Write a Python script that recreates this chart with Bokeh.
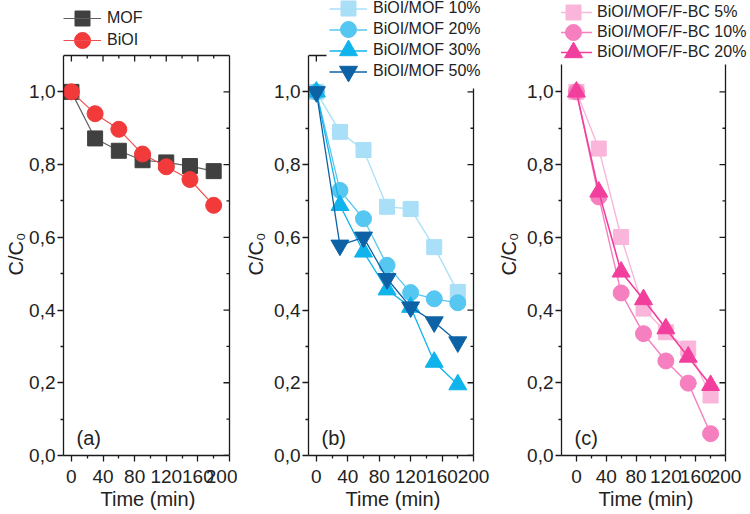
from bokeh.plotting import figure
from bokeh.models import (FixedTicker, CustomJSTickFormatter, Range1d, Title,
                          Legend, LegendItem, Label)
from bokeh.layouts import row
from bokeh.embed import file_html
from bokeh.resources import INLINE

# ---------------- data ----------------
time = [0, 30, 60, 90, 120, 150, 180]

mof = [1.0, 0.872, 0.838, 0.812, 0.806, 0.796, 0.782]
bioi = [1.0, 0.940, 0.897, 0.829, 0.794, 0.759, 0.688]

bm10 = [1.0, 0.890, 0.840, 0.684, 0.678, 0.573, 0.450]
bm20 = [1.0, 0.729, 0.651, 0.523, 0.448, 0.431, 0.420]
bm30 = [1.0, 0.688, 0.560, 0.456, 0.408, 0.257, 0.195]
bm50 = [1.0, 0.578, 0.600, 0.486, 0.408, 0.367, 0.312]

bc5 = [1.0, 0.844, 0.601, 0.404, 0.339, 0.294, 0.165]
bc10 = [1.0, 0.711, 0.447, 0.335, 0.260, 0.199, 0.060]
bc20 = [1.0, 0.725, 0.505, 0.429, 0.349, 0.271, 0.193]

x_ticks = [0, 40, 80, 120, 160, 200]
x_minor = [20, 60, 100, 140, 180]
y_ticks = [0.0, 0.2, 0.4, 0.6, 0.8, 1.0]
y_minor = [0.1, 0.3, 0.5, 0.7, 0.9]
X_MAX = 200
Y_MAX = 1.1
X_LABEL = "Time (min)"
Y_LABEL = "C/C\u2080"

# ---------------- layout geometry (page pixels) ----------------
CANVAS_TOP = 0
BOX_TOP = 55
FRAME_BOTTOM = 455
FONT = "Liberation Sans"
AX = "#1a1a1a"
TXT = "#222222"


def style_axis(ax, ticker, standoff):
    ax.ticker = ticker
    ax.axis_line_color = AX
    ax.axis_line_width = 1.3
    ax.major_tick_line_color = AX
    ax.minor_tick_line_color = AX
    ax.major_tick_line_width = 1.3
    ax.minor_tick_line_width = 1.3
    ax.major_tick_out, ax.major_tick_in = 6, 0
    ax.minor_tick_out, ax.minor_tick_in = 3, 0
    ax.major_label_text_font = FONT
    ax.major_label_text_font_size = "19px"
    ax.major_label_text_color = TXT
    ax.major_label_standoff = standoff


def make_panel(x_start, fig_left, frame_left, box_right, fig_right,
               series, leg, tag, ytitle_standoff, top_end_px, right_top_px,
               left_top_px=BOX_TOP):
    box_w = box_right - frame_left
    frame_w = fig_right - frame_left
    ux = (X_MAX - x_start) / box_w          # data units per pixel (x)
    x_end = X_MAX + (frame_w - box_w) * ux
    uy = Y_MAX / (FRAME_BOTTOM - BOX_TOP)   # data units per pixel (y)
    y_end = Y_MAX + (BOX_TOP - CANVAS_TOP) * uy

    def dx(px):
        return x_start + (px - frame_left) * ux

    def dy(py):
        return (FRAME_BOTTOM - py) * uy

    p = figure(frame_width=frame_w, frame_height=FRAME_BOTTOM - CANVAS_TOP,
               x_range=Range1d(x_start, x_end), y_range=Range1d(0, y_end),
               output_backend="svg", toolbar_location=None, title=None,
               min_border_left=frame_left - fig_left, min_border_right=0,
               min_border_top=0, min_border_bottom=58)
    p.xgrid.visible = False
    p.ygrid.visible = False
    p.outline_line_color = None
    p.background_fill_color = "white"

    style_axis(p.xaxis[0], FixedTicker(ticks=x_ticks, minor_ticks=x_minor), 8)
    p.xaxis[0].bounds = (x_start, X_MAX)
    style_axis(p.yaxis[0], FixedTicker(ticks=y_ticks, minor_ticks=y_minor), 2)
    p.yaxis[0].bounds = (0, dy(left_top_px))
    p.yaxis[0].formatter = CustomJSTickFormatter(
        code="return tick.toFixed(1).replace('.', ',')")

    # axis titles, aligned on the plot box rather than the whole frame
    p.add_layout(Title(text=X_LABEL, align="left", offset=37, standoff=0,
                       vertical_align="bottom", text_font=FONT,
                       text_font_size="20px", text_font_style="normal",
                       text_color=TXT), "below")
    p.add_layout(Title(text=Y_LABEL, align="left", offset=180,
                       standoff=ytitle_standoff, vertical_align="bottom",
                       text_font=FONT, text_font_size="20px",
                       text_font_style="normal", text_color=TXT), "left")

    # top and right sides of the plot box (the legend hides part of them)
    seg = dict(line_color=AX, line_width=1.3)
    top_end = dx(top_end_px)
    if top_end > x_start:
        p.segment(x0=[x_start], y0=[Y_MAX], x1=[top_end], y1=[Y_MAX], **seg)
        tx = [t for t in x_ticks if t < top_end]
        tm = [t for t in x_minor if t < top_end]
        if tx:
            p.segment(x0=tx, y0=Y_MAX, x1=tx, y1=Y_MAX - 6 * uy, **seg)
        if tm:
            p.segment(x0=tm, y0=Y_MAX, x1=tm, y1=Y_MAX - 3 * uy, **seg)
    right_top = dy(right_top_px)
    p.segment(x0=[X_MAX], y0=[0], x1=[X_MAX], y1=[right_top], **seg)
    ry = [t for t in y_ticks if t <= right_top]
    rm = [t for t in y_minor if t <= right_top]
    p.segment(x0=X_MAX, y0=ry, x1=X_MAX - 6 * ux, y1=ry, **seg)
    p.segment(x0=X_MAX, y0=rm, x1=X_MAX - 3 * ux, y1=rm, **seg)

    glyph_x, first_c, pitch, gw, standoff, fsize = leg

    items = []
    for i, (name, ys, marker, size, fill, line_col, lw) in enumerate(series):
        lr = p.line(time, ys, line_color=line_col, line_width=lw)
        p.scatter(time, ys, marker=marker, size=size, fill_color=fill,
                  line_color=fill, line_width=1)
        items.append(LegendItem(label=name, renderers=[lr]))
        # full-size legend marker drawn on top of the legend's line sample
        p.scatter([dx(glyph_x + gw / 2)], [dy(first_c + i * pitch)],
                  marker=marker, size=size, fill_color=fill, line_color=fill,
                  line_width=1, level="overlay")

    n = len(items)
    last_c = first_c + (n - 1) * pitch
    legend = Legend(items=items,
                    location=(glyph_x - frame_left, FRAME_BOTTOM - (last_c + pitch / 2)),
                    orientation="vertical",
                    glyph_width=gw, glyph_height=pitch, label_height=pitch,
                    spacing=0, padding=0, margin=0, label_standoff=standoff,
                    border_line_color=None, background_fill_alpha=0.0,
                    label_text_font=FONT, label_text_font_size=fsize,
                    label_text_color=TXT)
    p.add_layout(legend, "center")

    p.add_layout(Label(x=13, y=18, x_units="screen", y_units="screen", text=tag,
                       text_font=FONT, text_font_size="20px", text_color=TXT,
                       text_baseline="middle"))
    return p


pa = make_panel(-10, 0, 63, 229, 237, [
    ("MOF", mof, "square", 15, "#404040", "#606060", 1.2),
    ("BiOI", bioi, "circle", 16, "#f23a3a", "#ee5050", 1.2),
], (63, 18, 22, 38, 6, "16px"), "(a)", 0, top_end_px=229, right_top_px=55)

pb = make_panel(-10, 237, 307, 472, 489, [
    ("BiOI/MOF 10%", bm10, "square", 15, "#a9dff7", "#a9dff7", 1.3),
    ("BiOI/MOF 20%", bm20, "circle", 16, "#55c7f0", "#55c7f0", 1.3),
    ("BiOI/MOF 30%", bm30, "triangle", 18, "#10b4ec", "#10b4ec", 1.3),
    ("BiOI/MOF 50%", bm50, "inverted_triangle", 18, "#0d62a6", "#0d62a6", 1.3),
], (328, 8, 21, 38, 6, "16px"), "(b)", 10, top_end_px=325, right_top_px=88)

pc = make_panel(-20, 489, 559, 723, 750, [
    ("BiOI/MOF/F-BC 5%", bc5, "square", 15, "#f9b6da", "#f9b6da", 1.4),
    ("BiOI/MOF/F-BC 10%", bc10, "circle", 16, "#f67fbf", "#f67fbf", 1.4),
    ("BiOI/MOF/F-BC 20%", bc20, "triangle", 18, "#f23f9e", "#f23f9e", 1.6),
], (552, 12, 20, 38, 5, "16px"), "(c)", 10, top_end_px=559, right_top_px=64,
    left_top_px=64)

layout = row(pa, pb, pc)
open("out.html", "w").write(file_html(layout, INLINE))
